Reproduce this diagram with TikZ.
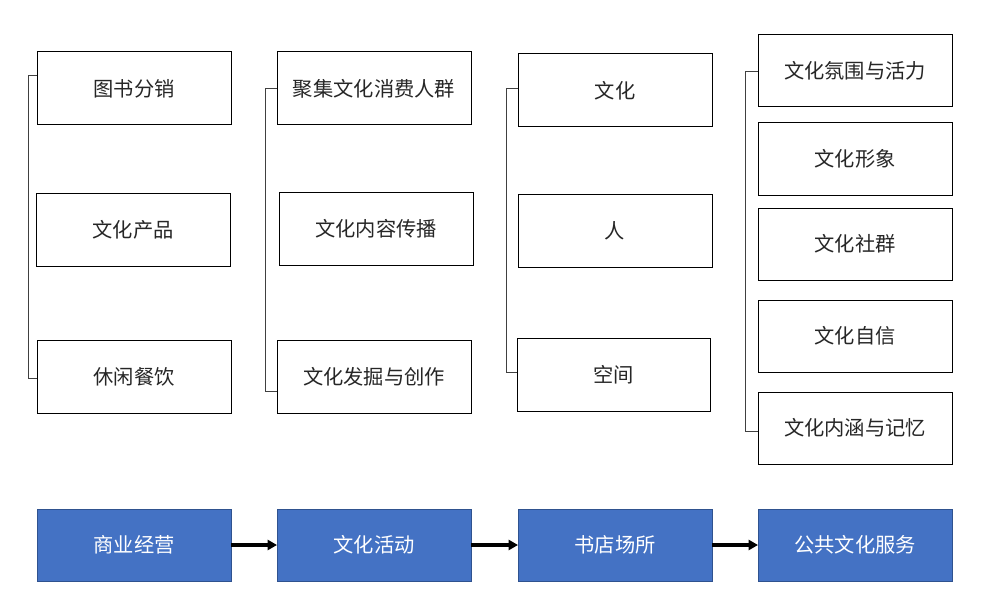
\documentclass[tikz,border=0pt]{standalone}
\usepackage{fontspec}
\setmainfont{Noto Sans CJK SC}
\usetikzlibrary{arrows.meta}
\definecolor{boxblue}{HTML}{4472C4}
\definecolor{boxedge}{HTML}{2F528F}
\definecolor{brk}{HTML}{404040}
\tikzset{
  wbox/.style={draw=black, line width=0.75pt, fill=white, minimum width=145.5pt, minimum height=54.75pt, inner sep=0pt, outer sep=0pt, font=\fontsize{15.2pt}{17pt}\selectfont, text=black!85},
  bbox/.style={draw=boxedge, line width=0.75pt, fill=boxblue, minimum width=145.5pt, minimum height=54pt, inner sep=0pt, outer sep=0pt, font=\fontsize{15.2pt}{17pt}\selectfont, text=white},
  brack/.style={draw=brk, line width=0.75pt},
  flow/.style={draw=black, line width=2.4pt, -{Triangle[length=7pt,width=7.5pt]}}
}
\begin{document}
\begin{tikzpicture}[x=0.75pt,y=-0.75pt]
\useasboundingbox (0,0) rectangle (1005,606);
% column 1
\node[wbox] (a1) at (134,88.5) {图书分销};
\node[wbox] (a2) at (133,229.5) {文化产品};
\node[wbox] (a3) at (134,377) {休闲餐饮};
% column 2
\node[wbox] (b1) at (374,88.5) {聚集文化消费人群};
\node[wbox] (b2) at (376,228.5) {文化内容传播};
\node[wbox] (b3) at (374,377) {文化发掘与创作};
% column 3
\node[wbox] (c1) at (615,90.5) {文化};
\node[wbox] (c2) at (615,230.5) {人};
\node[wbox, minimum width=144.75pt] (c3) at (613.5,374.5) {空间};
% column 4
\node[wbox, minimum height=54pt] (d1) at (855,71) {文化氛围与活力};
\node[wbox, minimum height=54pt] (d2) at (855,159) {文化形象};
\node[wbox, minimum height=54pt] (d3) at (855,244) {文化社群};
\node[wbox, minimum height=54pt] (d4) at (855,336) {文化自信};
\node[wbox, minimum height=54pt] (d5) at (855,428) {文化内涵与记忆};
% bottom row
\node[bbox] (e1) at (134,545) {商业经营};
\node[bbox] (e2) at (374,545) {文化活动};
\node[bbox] (e3) at (615,545) {书店场所};
\node[bbox] (e4) at (855,545) {公共文化服务};
% brackets
\coordinate (k1t) at (28,76);  \coordinate (k1b) at (28,378);
\coordinate (k2t) at (265,89); \coordinate (k2b) at (265,391);
\coordinate (k3t) at (506,89); \coordinate (k3b) at (506,372);
\coordinate (k4t) at (745,72); \coordinate (k4b) at (745,431);
\draw[brack] (k1t -| a1.west) -- (k1t) -- (k1b) -- (k1b -| a3.west);
\draw[brack] (k2t -| b1.west) -- (k2t) -- (k2b) -- (k2b -| b3.west);
\draw[brack] (k3t -| c1.west) -- (k3t) -- (k3b) -- (k3b -| c3.west);
\draw[brack] (k4t -| d1.west) -- (k4t) -- (k4b) -- (k4b -| d5.west);
% flow arrows
\draw[flow] (e1) -- (e2);
\draw[flow] (e2) -- (e3);
\draw[flow] (e3) -- (e4);
\end{tikzpicture}
\end{document}
